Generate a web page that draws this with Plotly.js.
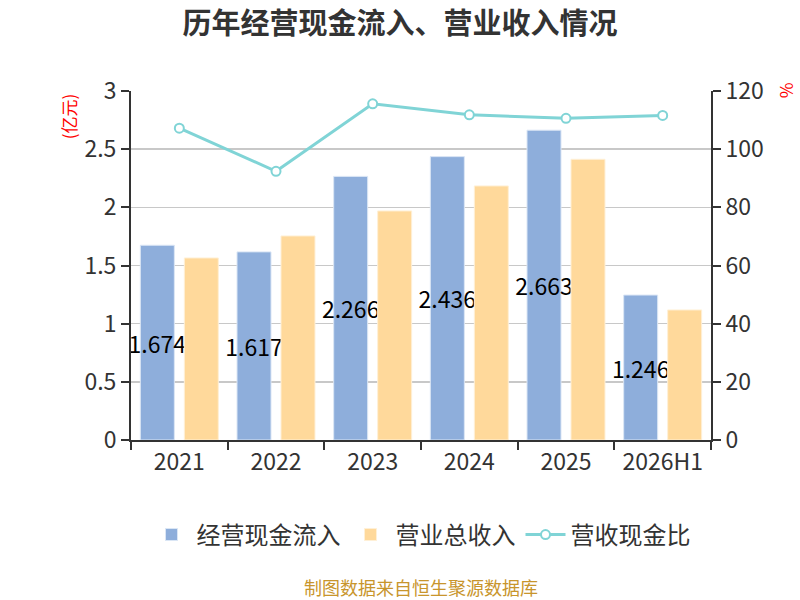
<!DOCTYPE html>
<html>
<head>
<meta charset="utf-8">
<script src="https://cdn.plot.ly/plotly-3.0.1.min.js"></script>
<style>
  html, body { margin: 0; padding: 0; background: #fff; }
  #chart { width: 800px; height: 600px; }
</style>
</head>
<body>
<div id="chart"></div>
<script>
// values
const years = ["2021", "2022", "2023", "2024", "2025", "2026H1"];
const cashIn = [1.674, 1.617, 2.266, 2.436, 2.663, 1.246]; // 经营现金流入 (亿元)
const revenue = [1.565, 1.754, 1.969, 2.184, 2.413, 1.118]; // 营业总收入 (亿元)
const ratio = [107.2, 92.4, 115.6, 111.8, 110.6, 111.6]; // 营收现金比 (%)

const font = '"Noto Sans CJK SC", "Noto Sans", sans-serif';

const data = [
  {
    type: "bar",
    name: "经营现金流入",
    x: years,
    y: cashIn,
    text: cashIn.map((v) => v.toFixed(3)),
    textposition: "inside",
    insidetextanchor: "middle",
    textangle: 0,
    constraintext: "none",
    textfont: { family: font, size: 23, color: "#000" },
    marker: { color: "#8eaedb", line: { color: "#dbe6f5", width: 1 } },
    hoverinfo: "none",
  },
  {
    type: "bar",
    name: "营业总收入",
    x: years,
    y: revenue,
    marker: { color: "#ffd99b", line: { color: "#fff0d6", width: 1 } },
    hoverinfo: "none",
  },
  {
    type: "scatter",
    mode: "lines+markers",
    name: "营收现金比",
    x: years,
    y: ratio,
    yaxis: "y2",
    line: { color: "#80d4d6", width: 3 },
    marker: {
      symbol: "circle",
      size: 9,
      color: "#fff",
      line: { color: "#80d4d6", width: 2 },
    },
    hoverinfo: "none",
  },
];

const tickFont = { family: font, size: 23, color: "#333" };

const layout = {
  width: 800,
  height: 600,
  margin: { l: 131, r: 89, t: 91, b: 160 },
  paper_bgcolor: "#fff",
  plot_bgcolor: "#fff",
  font: { family: font, color: "#333" },
  title: {
    text: "<b>历年经营现金流入、营业收入情况</b>",
    font: { family: font, size: 29, color: "#333" },
    x: 0.5,
    xanchor: "center",
    y: 0.961,
    yanchor: "middle",
  },
  barmode: "group",
  bargap: 0.09,
  bargroupgap: 0.227,
  xaxis: {
    type: "category",
    tickson: "boundaries",
    ticks: "outside",
    ticklen: 8,
    tickcolor: "#333",
    tickwidth: 2,
    showline: true,
    linecolor: "#333",
    linewidth: 2,
    showgrid: false,
    tickfont: tickFont,
  },
  yaxis: {
    range: [0, 3],
    dtick: 0.5,
    ticks: "outside",
    ticklen: 8,
    tickcolor: "#333",
    tickwidth: 2,
    showline: true,
    linecolor: "#333",
    linewidth: 2,
    gridcolor: "#c8c8c8",
    gridwidth: 1.5,
    zeroline: false,
    tickfont: tickFont,
  },
  yaxis2: {
    overlaying: "y",
    side: "right",
    range: [0, 120],
    dtick: 20,
    ticks: "outside",
    ticklen: 8,
    tickcolor: "#333",
    tickwidth: 2,
    showline: true,
    linecolor: "#333",
    linewidth: 2,
    showgrid: false,
    zeroline: false,
    tickfont: tickFont,
  },
  legend: {
    orientation: "h",
    x: 0.5,
    xanchor: "center",
    y: -0.272,
    yanchor: "middle",
    font: { family: font, size: 24, color: "#333" },
    itemwidth: 40,
  },
  annotations: [
    {
      text: "(亿元)",
      xref: "paper",
      yref: "paper",
      x: -0.108,
      y: 1.0,
      xanchor: "center",
      yanchor: "top",
      textangle: -90,
      showarrow: false,
      font: { family: font, size: 17, color: "#ff0000" },
    },
    {
      text: "%",
      xref: "paper",
      yref: "paper",
      x: 1.131,
      y: 1.03,
      xanchor: "center",
      yanchor: "top",
      textangle: 90,
      showarrow: false,
      font: { family: font, size: 17, color: "#ff0000" },
    },
    {
      text: "制图数据来自恒生聚源数据库",
      xref: "paper",
      yref: "paper",
      x: 0.5,
      y: -0.422,
      xanchor: "center",
      yanchor: "middle",
      showarrow: false,
      font: { family: font, size: 18, color: "#c8952c" },
    },
  ],
};

Plotly.newPlot("chart", data, layout, { displayModeBar: false, staticPlot: true });
</script>
</body>
</html>
